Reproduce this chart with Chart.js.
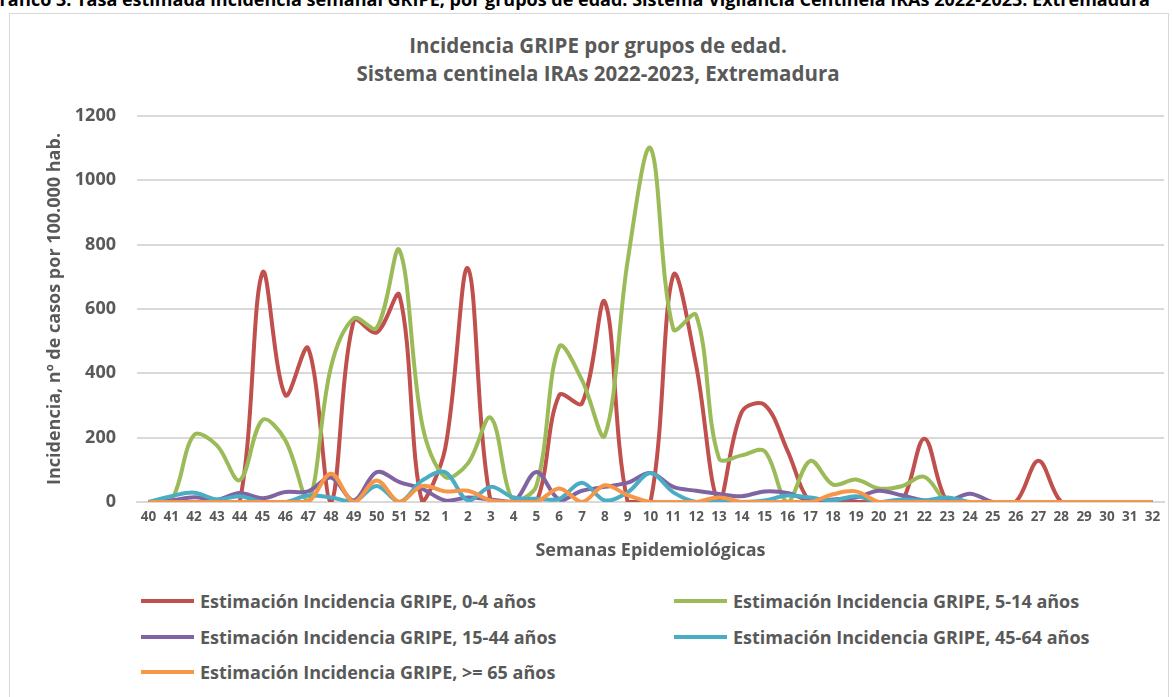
<!DOCTYPE html>
<html lang="es">
<head>
<meta charset="utf-8">
<title>Incidencia GRIPE por grupos de edad</title>
<script src="https://cdn.jsdelivr.net/npm/chart.js@4.4.1/dist/chart.umd.min.js"></script>
<style>
  html, body { margin: 0; padding: 0; background: #fff; }
  body { width: 1173px; height: 697px; position: relative; overflow: hidden; font-family: "Open Sans", sans-serif; }
  #caption { position: absolute; right: 23px; top: -13px; white-space: nowrap; font-weight: bold; font-size: 18px; color: #000; }
  #frame { position: absolute; left: 9px; top: 13px; width: 1158px; height: 720px; border: 1px solid #d9d9d9; }
  #title { position: absolute; left: 0; width: 1196px; top: 31px; text-align: center; font-weight: bold; font-size: 20.5px; line-height: 28px; color: #595959; }
  #chart { position: absolute; left: 0; top: 0; }
  .item { position: absolute; height: 26px; }
  .item .swatch { position: absolute; top: 11px; width: 53px; height: 4px; }
  .item .txt { position: absolute; top: 0; white-space: nowrap; font-weight: bold; font-size: 18px; line-height: 26px; color: #595959; }
</style>
</head>
<body>
<div id="caption">Gráfico 3. Tasa estimada incidencia semanal GRIPE, por grupos de edad. Sistema Vigilancia Centinela IRAs 2022-2023. Extremadura</div>
<div id="frame"></div>
<div id="title">Incidencia GRIPE por grupos de edad.<br>Sistema centinela IRAs 2022-2023, Extremadura</div>
<canvas id="chart" width="1173" height="580"></canvas>
<div id="legend"></div>
<script>
// semanas epidemiologicas 40/2022 .. 32/2023
var semanas = ['40','41','42','43','44','45','46','47','48','49','50','51','52',
  '1','2','3','4','5','6','7','8','9','10','11','12','13','14','15','16',
  '17','18','19','20','21','22','23','24','25','26','27','28','29','30','31','32'];

var yTicks = [0, 200, 400, 600, 800, 1000, 1200];

// tasas por 100.000 hab.
var edad0_4 = [0,0,0,0,0,713,332,478,0,564,527,643,0,
  165,726,0,0,0,332,307,622,0,0,705,425,0,280,302,160,
  0,0,0,0,0,197,0,0,0,0,128,0,0,0,0,0];
var edad5_14 = [0,5,208,176,68,255,192,0,420,571,541,783,240,
  78,120,262,0,50,483,379,207,750,1100,537,581,136,145,158,0,
  128,54,70,42,49,78,0,0,0,0,0,0,0,0,0,0];
var edad15_44 = [0,5,15,7,28,12,31,33,76,5,93,62,41,
  5,14,8,0,93,8,35,47,60,90,47,35,25,18,33,28,
  5,8,14,35,21,5,2,26,0,0,0,0,0,0,0,0];
var edad45_64 = [0,18,29,8,18,0,0,20,14,0,50,0,67,
  93,5,47,14,10,10,60,5,30,90,30,0,0,0,5,20,
  14,5,18,0,8,5,14,0,0,0,0,0,0,0,0,0];
var edad65 = [0,0,0,0,0,0,0,0,88,0,67,0,50,
  33,35,5,0,0,42,0,52,21,0,0,0,14,0,0,0,
  0,24,33,0,0,0,0,0,0,0,0,0,0,0,0,0];

var gris = '#595959';
var series = [
  { label: 'Estimación Incidencia GRIPE, 0-4 años', data: edad0_4, color: '#C0504D' },
  { label: 'Estimación Incidencia GRIPE, 5-14 años', data: edad5_14, color: '#9BBB59' },
  { label: 'Estimación Incidencia GRIPE, 15-44 años', data: edad15_44, color: '#8064A2' },
  { label: 'Estimación Incidencia GRIPE, 45-64 años', data: edad45_64, color: '#4BACC6' },
  { label: 'Estimación Incidencia GRIPE, >= 65 años', data: edad65, color: '#F79646' }
];

var datasets = series.map(function (s, i) {
  return {
    label: s.label,
    data: s.data,
    borderColor: s.color,
    backgroundColor: s.color,
    borderWidth: 4,
    pointRadius: 0,
    tension: 0.35,
    fill: false,
    order: series.length - i
  };
});

var ctx = document.getElementById('chart');
var grafico = new Chart(ctx, {
  type: 'line',
  data: { labels: semanas, datasets: datasets },
  options: {
    responsive: false,
    animation: false,
    layout: { padding: { top: 116, left: 0, right: 9, bottom: 0 } },
    plugins: {
      legend: { display: false },
      title: { display: false },
      tooltip: { enabled: false }
    },
    scales: {
      x: {
        offset: true,
        grid: { display: false, drawTicks: false },
        border: { display: true, color: '#d9d9d9', width: 2 },
        ticks: { color: gris, font: { family: 'Open Sans', size: 13.5, weight: 'bold' }, padding: 7, maxRotation: 0, autoSkip: false },
        title: { display: true, text: 'Semanas Epidemiológicas', color: gris,
          font: { family: 'Open Sans', size: 18, weight: 'bold' }, padding: { top: 0, bottom: 18 } },
        afterFit: function (scale) { scale.height = 78; }
      },
      y: {
        min: 0,
        max: 1200,
        afterBuildTicks: function (scale) { scale.ticks = yTicks.map(function (v) { return { value: v }; }); },
        grid: { color: '#d9d9d9', lineWidth: 2, drawTicks: false },
        border: { display: false },
        ticks: { color: gris, font: { family: 'Open Sans', size: 18, weight: 'bold' }, padding: 21,
          callback: function (v) { return String(v); } },
        title: { display: true, text: 'Incidencia, nº de casos por 100.000 hab.', color: gris,
          font: { family: 'Open Sans', size: 18, weight: 'bold' }, padding: { top: 44, bottom: 0 } },
        afterFit: function (scale) { scale.width = 137; }
      }
    }
  }
});

// leyenda en dos columnas, como en el original
var legend = document.getElementById('legend');
var cols = [141, 674];
var rows = [588, 624, 659];
series.forEach(function (s, i) {
  var item = document.createElement('div');
  item.className = 'item';
  item.style.left = cols[i % 2] + 'px';
  item.style.top = rows[Math.floor(i / 2)] + 'px';
  item.innerHTML = '<span class="swatch" style="left:0;background:' + s.color + '"></span>' +
    '<span class="txt" style="left:59px">' + s.label.replace('>', '&gt;') + '</span>';
  legend.appendChild(item);
});
</script>
</body>
</html>
